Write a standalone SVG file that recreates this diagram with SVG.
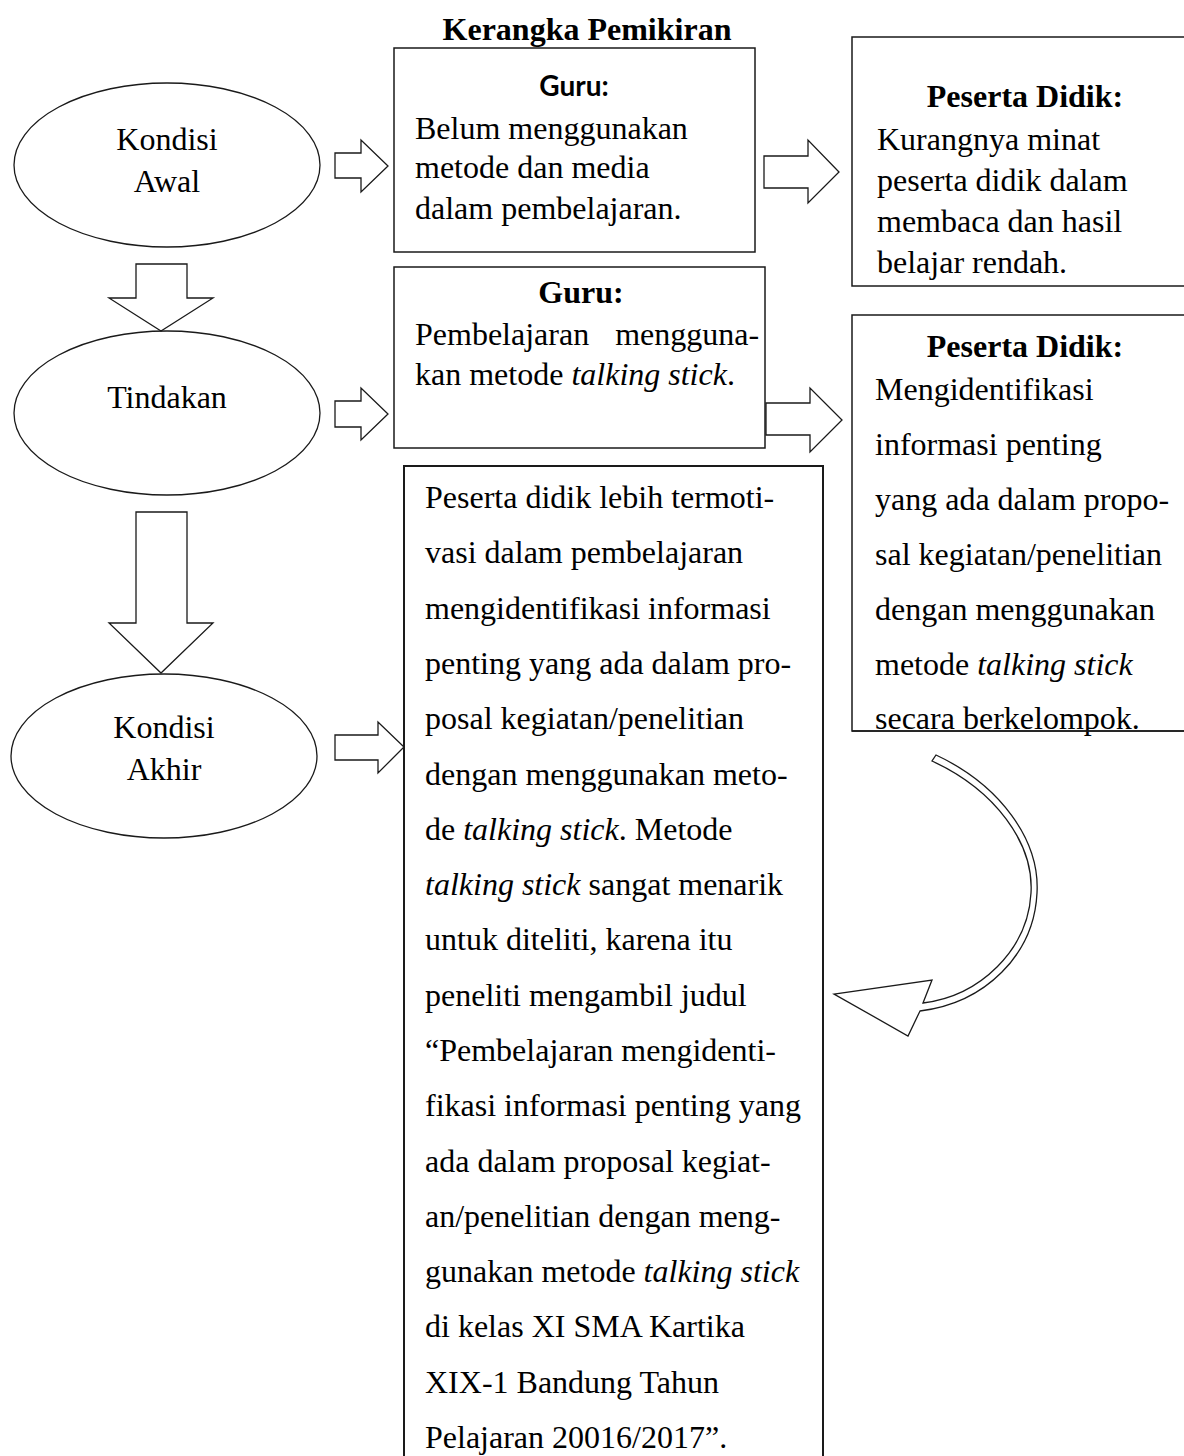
<svg xmlns="http://www.w3.org/2000/svg" width="1184" height="1456" viewBox="0 0 1184 1456">
<style>
.t{font-family:"Liberation Serif","Times New Roman",serif;font-size:32px;fill:#000}
.b{font-weight:bold}
.i{font-style:italic}
.c{text-anchor:middle}
.s{font-family:Lato,"Liberation Sans",Arial,sans-serif;font-weight:bold;font-size:28px;fill:#000}
.box{fill:#fff;stroke:#1a1a1a;stroke-width:1.5}
.big{fill:#fff;stroke:#1a1a1a;stroke-width:2}
.ell{fill:#fff;stroke:#1a1a1a;stroke-width:1.3}
.arr{fill:#fff;stroke:#1a1a1a;stroke-width:1.3;stroke-linejoin:miter}
</style>
<rect width="1184" height="1456" fill="#fff"/>
<text class="t b c" x="587" y="40">Kerangka Pemikiran</text>

<g id="kondisi-awal">
<ellipse class="ell" cx="167" cy="165" rx="153" ry="82"/>
<text class="t c" x="167" y="150">Kondisi</text>
<text class="t c" x="167" y="192">Awal</text>
</g>
<g id="tindakan">
<ellipse class="ell" cx="167" cy="413" rx="153" ry="82"/>
<text class="t c" x="167" y="408">Tindakan</text>
</g>
<g id="kondisi-akhir">
<ellipse class="ell" cx="164" cy="756" rx="153" ry="82"/>
<text class="t c" x="164" y="738">Kondisi</text>
<text class="t c" x="164" y="780">Akhir</text>
</g>

<g id="guru-awal">
<rect class="box" x="394" y="48" width="361" height="204"/>
<text class="s c" x="574" y="96">Guru:</text>
<text class="t" x="415" y="139">Belum menggunakan</text>
<text class="t" x="415" y="178">metode dan media</text>
<text class="t" x="415" y="219">dalam pembelajaran.</text>
</g>
<g id="peserta-awal">
<rect class="box" x="852" y="37" width="345" height="249"/>
<text class="t b c" x="1025" y="107">Peserta Didik:</text>
<text class="t" x="877" y="150">Kurangnya minat</text>
<text class="t" x="877" y="191">peserta didik dalam</text>
<text class="t" x="877" y="232">membaca dan hasil</text>
<text class="t" x="877" y="273">belajar rendah.</text>
</g>
<g id="guru-tindakan">
<rect class="box" x="394" y="267" width="371" height="181"/>
<text class="t b c" x="581" y="303">Guru:</text>
<text class="t" x="415" y="345" word-spacing="18">Pembelajaran mengguna-</text>
<text class="t" x="415" y="385">kan metode <tspan class="i">talking stick</tspan>.</text>
</g>
<g id="peserta-tindakan">
<rect class="box" x="852" y="315" width="345" height="416"/>
<text class="t b c" x="1025" y="357">Peserta Didik:</text>
<text class="t" x="875" y="400">Mengidentifikasi</text>
<text class="t" x="875" y="455">informasi penting</text>
<text class="t" x="875" y="510">yang ada dalam propo-</text>
<text class="t" x="875" y="565">sal kegiatan/penelitian</text>
<text class="t" x="875" y="620">dengan menggunakan</text>
<text class="t" x="875" y="675">metode <tspan class="i">talking stick</tspan></text>
<text class="t" x="875" y="729">secara berkelompok.</text>
<line x1="852" y1="731" x2="1184" y2="731" stroke="#1a1a1a" stroke-width="1.5"/>
</g>
<g id="kondisi-akhir-isi">
<rect class="big" x="404" y="466" width="419" height="1020"/>
<text class="t" x="425" y="508">Peserta didik lebih termoti-</text>
<text class="t" x="425" y="563">vasi dalam pembelajaran</text>
<text class="t" x="425" y="619">mengidentifikasi informasi</text>
<text class="t" x="425" y="674">penting yang ada dalam pro-</text>
<text class="t" x="425" y="729">posal kegiatan/penelitian</text>
<text class="t" x="425" y="785">dengan menggunakan meto-</text>
<text class="t" x="425" y="840">de <tspan class="i">talking stick</tspan>. Metode</text>
<text class="t" x="425" y="895"><tspan class="i">talking stick</tspan> sangat menarik</text>
<text class="t" x="425" y="950">untuk diteliti, karena itu</text>
<text class="t" x="425" y="1006">peneliti mengambil judul</text>
<text class="t" x="425" y="1061">“Pembelajaran mengidenti-</text>
<text class="t" x="425" y="1116">fikasi informasi penting yang</text>
<text class="t" x="425" y="1172">ada dalam proposal kegiat-</text>
<text class="t" x="425" y="1227">an/penelitian dengan meng-</text>
<text class="t" x="425" y="1282">gunakan metode <tspan class="i">talking stick</tspan></text>
<text class="t" x="425" y="1337">di kelas XI SMA Kartika</text>
<text class="t" x="425" y="1393">XIX-1 Bandung Tahun</text>
<text class="t" x="425" y="1448">Pelajaran 20016/2017”.</text>
</g>

<g id="connectors">
<polygon class="arr" points="136,264 187,264 187,298 213,298 161,331 109,298 136,298"/>
<polygon class="arr" points="136,512 187,512 187,623 213,623 161,673 109,623 136,623"/>
<polygon class="arr" points="335,153 361,153 361,140 388,166 361,192 361,178 335,178"/>
<polygon class="arr" points="335,401 361,401 361,388 388,414 361,440 361,427 335,427"/>
<polygon class="arr" points="335,735 378,735 378,722 404,747 378,773 378,760 335,760"/>
<polygon class="arr" points="764,156 808,156 808,140 839,172 808,203 808,188 764,188"/>
<polygon class="arr" points="766,403 810,403 810,388 842,420 810,452 810,435 766,435"/>
<path class="arr" d="M936,755 C1000,785 1040,840 1037,893 C1034,955 985,1003 920,1011 L908,1036 L834,994 L932,980 L923,1003 C980,996 1028,950 1031,893 C1034,843 995,790 932,761 Z"/>
</g>
</svg>
